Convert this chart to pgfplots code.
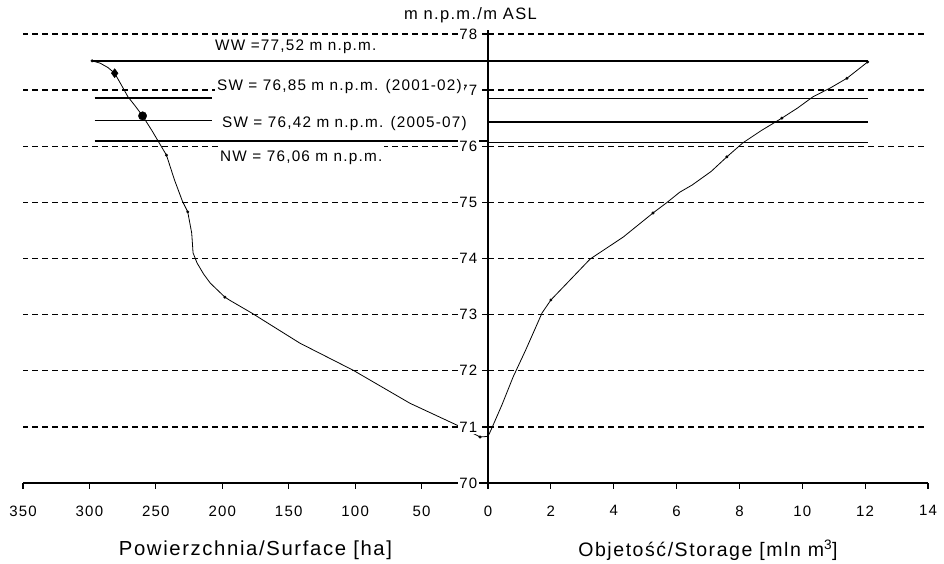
\documentclass[border=0pt]{standalone}
\usepackage{fontspec}
\setmainfont{Liberation Sans}[LetterSpace=8]
\usepackage{pgfplots}
\pgfplotsset{compat=1.18}
\pgfplotsset{
  common/.style={
    scale only axis, height=453pt, ymin=70, ymax=78.07,
    ytick={70,71,...,78},
    ymajorgrids,
    major grid style={black, line width=1.3pt, dash pattern=on 6pt off 4pt},
    axis x line*=bottom,
    x axis line style={black, line width=1.3pt},
    tick align=outside,
    major tick length=6pt,
    tick style={black, line width=1.2pt},
    /pgf/number format/assume math mode=true,
    /pgf/number format/1000 sep={},
    ticklabel style={font=\fontsize{15}{15}\selectfont},
    xticklabel style={yshift=-13pt},
    xlabel style={at={(axis description cs:0.5,-0.148)}, anchor=center},
    clip=false,
  },
  curve/.style={black, line width=0.8pt, mark=none},
  hline/.style={black, line width=1.3pt, mark=none},
  dots/.style={only marks, mark=*, mark size=1.3pt, black},
}
\begin{document}
\begin{tikzpicture}
\useasboundingbox (0,0) rectangle (944pt,564pt);
% ---------------- left: surface ----------------
\begin{axis}[common, at={(23pt,81pt)}, anchor=south west, width=465pt,
  x dir=reverse, xmin=0, xmax=350, xtick={50,100,...,350},
  axis y line*=left, y axis line style={draw=none},
  yticklabels={}, ytick style={draw=none},
  xlabel style={font=\fontsize{20.3}{21}\selectfont},
  xlabel={Powierzchnia/Surface [ha]}]
\addplot[curve] coordinates {
(298,77.52) (292,77.48) (286,77.40) (281,77.30) (275,77.05) (271,76.88)
(265,76.70) (260,76.54) (253,76.28) (247,76.04) (242,75.84) (239,75.62)
(236,75.40) (230,75.02) (226,74.83) (223,74.45) (222,74.10) (219,73.92)
(214,73.72) (209,73.56) (198,73.31) (194,73.25) (178,73.03) (141.5,72.49)
(101.6,72.01) (58.7,71.42) (23.3,71.03) (6,70.82) (0,70.83)};
\addplot[dots] coordinates {(298,77.52) (242,75.84) (226,74.83) (198,73.31) (6,70.82)};
\addplot[only marks, mark=diamond*, mark size=4.5pt, black] coordinates {(281,77.30)};
\addplot[only marks, mark=*, mark size=4.2pt, black] coordinates {(260,76.54)};
% level lines
\addplot[hline] coordinates {(298,77.52) (0,77.52)};
\addplot[hline] coordinates {(296,76.86) (208,76.86)};
\addplot[hline] coordinates {(296,76.46) (208,76.46)};
\addplot[hline] coordinates {(296,76.09) (0,76.09)};
\end{axis}
% ---------------- right: storage ----------------
\begin{axis}[common, at={(488pt,81pt)}, anchor=south west, width=440pt,
  xmin=0, xmax=14, xtick={0,2,...,14},
  axis y line*=left, y axis line style={black, line width=1.3pt},
  yticklabel style={fill=white, inner sep=1.5pt, xshift=-3pt},
  xlabel style={font=\fontsize{19.5}{20}\selectfont},
  xlabel={Objetość/Storage [mln m\textsuperscript{3}]}]
\addplot[curve] coordinates {
(0,70.83) (0.1,70.95) (0.45,71.40) (0.8,71.89) (1.2,72.37) (1.5,72.75)
(1.72,73.03) (2.0,73.26) (2.6,73.61) (3.25,73.99) (4.3,74.38) (5.25,74.81)
(5.7,75.0) (6.1,75.18) (6.5,75.31) (7.1,75.55) (7.6,75.81) (8.11,76.06)
(8.7,76.28) (9.35,76.50) (9.85,76.68) (10.34,76.88) (10.9,77.04) (11.42,77.21)
(12.08,77.50)};
\addplot[dots] coordinates {(2.0,73.26) (5.25,74.81) (7.6,75.81) (9.35,76.50) (11.42,77.21) (12.08,77.50)};
\addplot[hline] coordinates {(0,77.52) (12.08,77.52)};
\addplot[hline] coordinates {(0,76.85) (12.08,76.85)};
\addplot[hline] coordinates {(0,76.43) (12.08,76.43)};
\addplot[hline] coordinates {(0,76.07) (12.08,76.07)};
\node[font=\fontsize{16.5}{17}\selectfont] at (rel axis cs:-0.04,1.033) {m n.p.m./m ASL};
% level annotations (placed left of the storage axis, over the surface panel)
\begin{scope}[font=\fontsize{15.3}{16}\selectfont]
\node[anchor=base west, inner sep=2pt] at (axis cs:-8.75,77.71) {WW =77,52 m n.p.m.};
\node[anchor=base west, fill=white, inner xsep=2pt, inner ysep=3pt] at (axis cs:-8.69,77.00) {SW = 76,85 m n.p.m. (2001-02)};
\node[anchor=base west, fill=white, inner xsep=2pt, inner ysep=3pt] at (axis cs:-8.53,76.34) {SW = 76,42 m n.p.m. (2005-07)};
\node[anchor=base west, fill=white, inner xsep=2pt, inner ysep=6pt] at (axis cs:-8.59,75.72) {NW = 76,06 m n.p.m.};
\end{scope}
\end{axis}
\end{tikzpicture}
\end{document}
